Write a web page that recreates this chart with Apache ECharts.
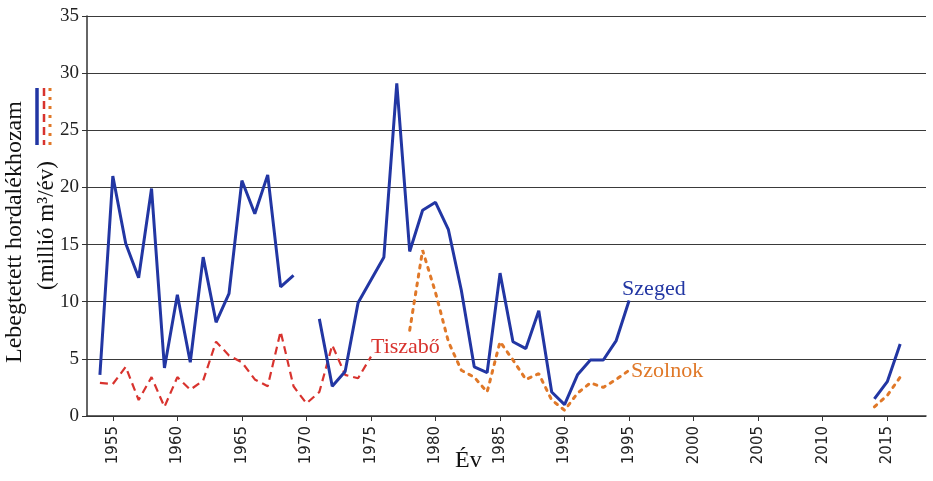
<!DOCTYPE html>
<html>
<head>
<meta charset="utf-8">
<script src="https://cdn.jsdelivr.net/npm/echarts@6/dist/echarts.min.js"></script>
<style>
  html, body { margin: 0; padding: 0; background: #fff; }
  #chart { width: 933px; height: 481px; }
</style>
</head>
<body>
<div id="chart"></div>
<script>
// years on the x axis (1953 - 2018)
const years = Array.from({ length: 66 }, (_, i) => String(1953 + i))

// Szeged (blue, solid)
const szeged = [
  null, 3.6,
  21.0, 15.1, 12.1, 19.9, 4.2, 10.6, 4.7, 13.9, 8.2, 10.7,
  20.6, 17.7, 21.1, 11.3, 12.3, null, 8.5, 2.6, 3.9, 9.9,
  11.9, 13.9, 29.1, 14.4, 18.0, 18.7, 16.3, 11.0, 4.3, 3.8,
  12.5, 6.5, 5.9, 9.2, 2.1, 1.0, 3.6, 4.9, 4.9, 6.6,
  10.1, null, null, null, null, null, null, null, null, null,
  null, null, null, null, null, null, null, null, null, 1.5,
  3.0, 6.3, null, null
]

// Tiszabő (red, dashed)
const tiszabo = [
  null, 2.9,
  2.8, 4.3, 1.4, 3.4, 0.8, 3.4, 2.3, 3.1, 6.5, 5.3,
  4.7, 3.2, 2.6, 7.4, 2.6, 1.1, 2.1, 6.2, 3.6, 3.3,
  5.2
]

// Szolnok (orange, dotted)
const szolnok = [
  null, null,
  null, null, null, null, null, null, null, null, null, null,
  null, null, null, null, null, null, null, null, null, null,
  null, null, null, 7.5, 14.5, 10.8, 6.5, 4.0, 3.4, 2.1,
  6.5, 4.9, 3.2, 3.7, 1.4, 0.5, 2.0, 2.9, 2.5, 3.2,
  4.0, null, null, null, null, null, null, null, null, null,
  null, null, null, null, null, null, null, null, null, 0.8,
  1.8, 3.4, null, null
]

const yTicks = [0, 5, 10, 15, 20, 25, 30, 35]

const serif = 'Liberation Serif'
const blue = '#2236a3'
const red = '#d8332e'
const orange = '#e07828'

// text label next to a line end
const tag = (text, year, value, color, offset) => ({
  symbol: 'circle',
  symbolSize: 0,
  silent: true,
  data: [{ coord: [year, value] }],
  label: {
    show: true,
    position: 'right',
    distance: 0,
    offset: offset,
    formatter: text,
    color: color,
    fontFamily: serif,
    fontSize: 22
  }
})

const chart = echarts.init(document.getElementById('chart'), null, { renderer: 'canvas' })

chart.setOption({
  backgroundColor: '#fff',
  animation: false,
  grid: { left: 87, right: 7, top: 16, bottom: 65, containLabel: false },
  xAxis: {
    type: 'category',
    data: years,
    boundaryGap: false,
    axisLine: { lineStyle: { color: '#333', width: 1.5 } },
    axisTick: {
      show: true,
      length: 5,
      interval: (i, v) => Number(v) % 5 === 0,
      lineStyle: { color: '#333' }
    },
    axisLabel: {
      interval: (i, v) => Number(v) % 5 === 0,
      rotate: 90,
      margin: 10,
      color: '#222',
      fontFamily: 'DejaVu Sans',
      fontSize: 15
    },
    splitLine: { show: false }
  },
  yAxis: {
    type: 'value',
    min: yTicks[0],
    max: yTicks[yTicks.length - 1],
    interval: 5,
    axisLine: { show: true, lineStyle: { color: '#333', width: 1.5 } },
    axisTick: { show: true, length: 5, lineStyle: { color: '#333' } },
    axisLabel: { color: '#222', fontFamily: serif, fontSize: 19, margin: 8 },
    splitLine: { lineStyle: { color: '#3a3a3a', width: 1.2 } }
  },
  series: [
    {
      name: 'Tiszabő',
      type: 'line',
      data: tiszabo,
      showSymbol: false,
      lineStyle: { color: red, width: 2.2, type: [8, 5] },
      markPoint: tag('Tiszabő', '1975', tiszabo[22], red, [0, -9])
    },
    {
      name: 'Szolnok',
      type: 'line',
      data: szolnok,
      showSymbol: false,
      lineStyle: { color: orange, width: 3, type: [3, 6], cap: 'round' },
      markPoint: tag('Szolnok', '1995', szolnok[42], orange, [2, 1])
    },
    {
      name: 'Szeged',
      type: 'line',
      data: szeged,
      showSymbol: false,
      lineStyle: { color: blue, width: 3 },
      markPoint: tag('Szeged', '1995', szeged[42], blue, [-7, -11])
    }
  ],
  graphic: [
    {
      type: 'text',
      rotation: Math.PI / 2,
      x: 3, y: 363,
      style: {
        text: 'Lebegtetett hordalékhozam',
        font: '24px "Liberation Serif"',
        fill: '#111'
      }
    },
    {
      type: 'text',
      rotation: Math.PI / 2,
      x: 35, y: 290,
      style: {
        text: '(millió m³/év)',
        font: '23px "Liberation Serif"',
        fill: '#111'
      }
    },
    {
      type: 'line',
      shape: { x1: 37, y1: 88, x2: 37, y2: 145 },
      style: { stroke: blue, lineWidth: 3.5 }
    },
    {
      type: 'line',
      shape: { x1: 44, y1: 88, x2: 44, y2: 145 },
      style: { stroke: red, lineWidth: 2.5, lineDash: [8, 5] }
    },
    {
      type: 'line',
      shape: { x1: 50, y1: 88, x2: 50, y2: 145 },
      style: { stroke: orange, lineWidth: 3, lineDash: [3, 6] }
    },
    {
      type: 'text',
      x: 455, y: 449,
      style: {
        text: 'Év',
        font: '24px "Liberation Serif"',
        fill: '#111'
      }
    }
  ]
})
</script>
</body>
</html>
